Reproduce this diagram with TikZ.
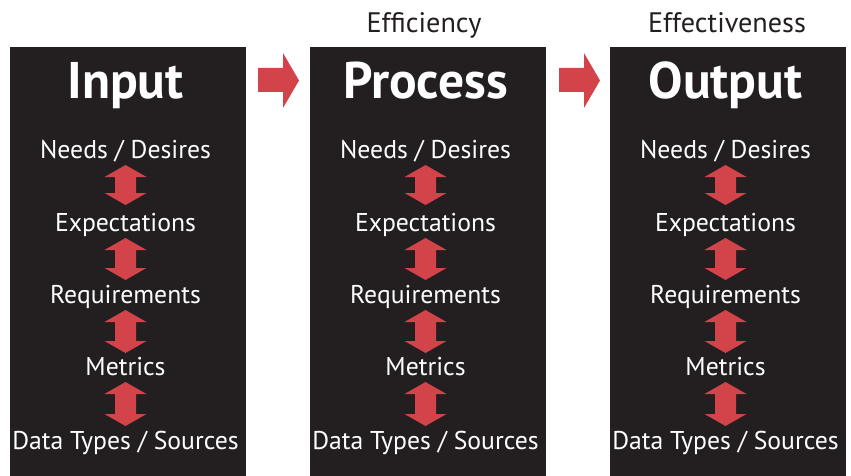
\documentclass[tikz,border=0pt]{standalone}
\usepackage{fontspec}
\setmainfont{PT Sans}
\definecolor{boxbg}{HTML}{231F20}
\definecolor{arrred}{HTML}{D2434A}
\newcommand\vdarrow[3]{%
  \fill[arrred] (#1,#2) -- ({#1+21},{#2+12}) -- ({#1+10.5},{#2+12}) -- ({#1+10.5},{#3-12})
   -- ({#1+21},{#3-12}) -- (#1,#3) -- ({#1-21},{#3-12}) -- ({#1-10.5},{#3-12})
   -- ({#1-10.5},{#2+12}) -- ({#1-21},{#2+12}) -- cycle;}
\newcommand\hsarrow[1]{%
  \fill[arrred] (#1,68) -- ({#1+25},68) -- ({#1+25},53) -- ({#1+41},80.5) -- ({#1+25},108)
   -- ({#1+25},92) -- (#1,92) -- cycle;}
\begin{document}
\begin{tikzpicture}[x=1pt,y=-1pt,
 panel/.style={fill=boxbg, draw=none, inner sep=0, minimum width=236pt, minimum height=429pt, anchor=north west},
 title/.style={text=white, font=\fontsize{51.5}{51.5}\selectfont\bfseries, anchor=base, inner sep=0},
 item/.style={text=white, font=\fontsize{25.7}{25.7}\selectfont, anchor=base, inner sep=0},
 caption/.style={text=boxbg, font=\fontsize{28.2}{28.2}\selectfont, anchor=base, inner sep=0}]
\useasboundingbox (0,0) rectangle (851,476);
\foreach \k/\nm/\ttl in {0/a/Input, 1/b/Process, 2/c/Output} {
  \pgfmathsetmacro\bx{10+300*\k}
  \pgfmathsetmacro\cx{125.5+300*\k}
  \node[panel] (\nm box) at (\bx,47) {};
  \node[title] (\nm title) at (\cx,99) {\ttl};
  \node[item] (\nm 1) at (\cx,158) {Needs / Desires};
  \node[item] (\nm 2) at (\cx,231) {Expectations};
  \node[item] (\nm 3) at (\cx,303) {Requirements};
  \node[item] (\nm 4) at (\cx,375) {Metrics};
  \node[item] (\nm 5) at (\cx,449) {Data Types / Sources};
  \vdarrow{\cx}{165}{205}
  \vdarrow{\cx}{238}{280}
  \vdarrow{\cx}{310}{353}
  \vdarrow{\cx}{382}{426}
}
\node[caption] (eff) at (424,33) {Efficiency};
\node[caption] (effv) at (727,33) {Effectiveness};
\hsarrow{258}
\hsarrow{559}
\end{tikzpicture}
\end{document}
